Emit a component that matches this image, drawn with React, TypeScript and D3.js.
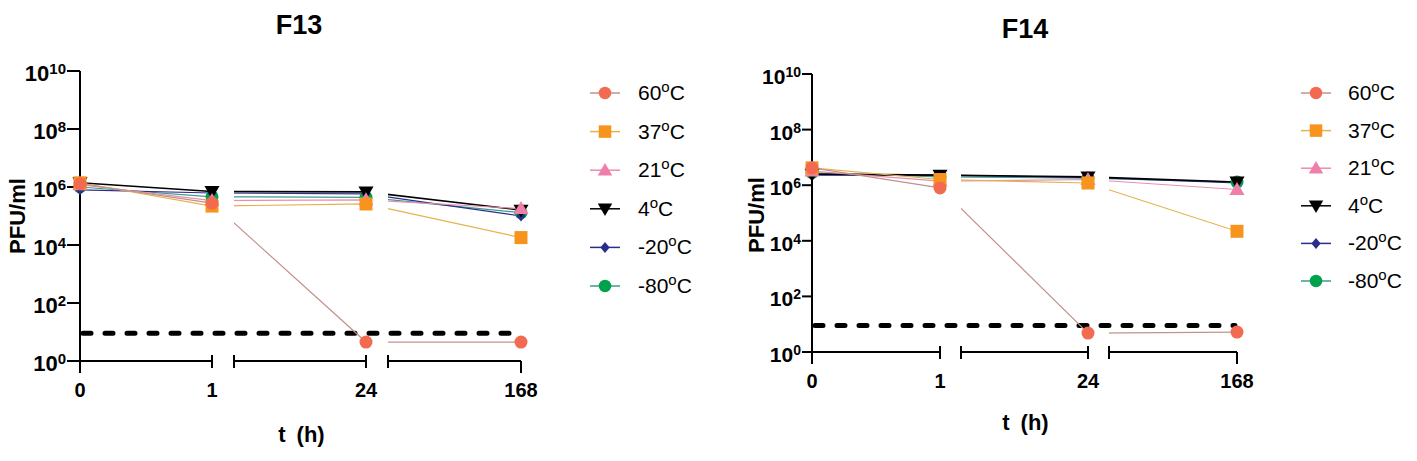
import React from "react";
import * as d3 from "d3";

// ---------- data ----------
const timeLabels = ["0", "1", "24", "168"];
const seriesNames = ["60", "37", "21", "4", "-20", "-80"];
const shapes = ["circle", "square", "triangle", "triangleDown", "diamond", "circle"];
const markerColors = ["#F26B50", "#F7941D", "#F07EAA", "#000000", "#2B2F8C", "#00A14B"];
const lineColors = ["#C4928A", "#E5B24E", "#EA8DB2", "#000000", "#2B2F8C", "#3C9C8E"];

const f13_60 = [1.3e6, 2.8e5, 4.5, 4.5];
const f13_37 = [1.4e6, 2.2e5, 2.6e5, 1.8e4];
const f13_21 = [1.2e6, 3.4e5, 3.6e5, 1.8e5];
const f13_4 = [1.4e6, 7.0e5, 6.8e5, 1.6e5];
const f13_m20 = [8.0e5, 6.2e5, 5.8e5, 1.0e5];
const f13_m80 = [1.0e6, 4.6e5, 4.4e5, 1.3e5];

const f14_60 = [4.2e6, 8.0e5, 4.8, 5.2];
const f14_37 = [4.2e6, 1.6e6, 1.2e6, 2.2e4];
const f14_21 = [3.2e6, 1.4e6, 1.6e6, 7.0e5];
const f14_4 = [2.5e6, 2.3e6, 2.0e6, 1.3e6];
const f14_m20 = [2.3e6, 2.3e6, 1.9e6, 1.2e6];
const f14_m80 = [2.8e6, 2.0e6, 1.8e6, 1.3e6];

const detectionLimit = 9;
const yTickExps = [0, 2, 4, 6, 8, 10];

const f13Series = [f13_60, f13_37, f13_21, f13_4, f13_m20, f13_m80];
const f14Series = [f14_60, f14_37, f14_21, f14_4, f14_m20, f14_m80];

const FONT = "'Liberation Sans', Arial, Helvetica, sans-serif";

function markerPath(shape: string, s: number): string {
  const h = s / 2;
  switch (shape) {
    case "square":
      return `M${-h},${-h}H${h}V${h}H${-h}Z`;
    case "triangle": {
      const t = s * 0.58;
      return `M0,${-t}L${t},${t * 0.72}L${-t},${t * 0.72}Z`;
    }
    case "triangleDown": {
      const t = s * 0.58;
      return `M0,${t}L${t},${-t * 0.72}L${-t},${-t * 0.72}Z`;
    }
    case "diamond": {
      const t = s * 0.5;
      return `M0,${-t}L${t * 0.85},0L0,${t}L${-t * 0.85},0Z`;
    }
    default: {
      const r = h;
      return `M${r},0A${r},${r} 0 1,1 ${-r},0A${r},${r} 0 1,1 ${r},0Z`;
    }
  }
}

type PanelProps = {
  id: string;
  title: string;
  titleX: number;
  titleY: number;
  data: number[][];
  xs: number[];
  segs: [number, number][];
  yTop: number;
  yBottom: number;
  labelSize: number;
  supSize: number;
  tickLen: number;
  xLabelY: number;
  xTitleY: number;
  yTitleX: number;
  yTitleY: number;
  legendLineX: [number, number];
  legendTextX: number;
  legendY0: number;
  legendDy: number;
};

function Panel(p: PanelProps) {
  const x = d3.scaleLinear().domain([0, 1, 2, 3]).range(p.xs);
  const y = d3.scaleLog().domain([1, 1e10]).range([p.yBottom, p.yTop]);
  const axisX = p.xs[0];
  const axisY = p.yBottom;
  const line = d3
    .line<number>()
    .x((_, i) => x(i))
    .y((d) => y(d));
  const order = [5, 4, 3, 2, 1, 0];
  return (
    <g>
      <defs>
        <clipPath id={`clip-${p.id}`}>
          {p.segs.map((s, i) => (
            <rect key={i} x={s[0]} y={0} width={s[1] - s[0]} height={461} />
          ))}
        </clipPath>
      </defs>
      <text x={p.titleX} y={p.titleY} textAnchor="middle" fontFamily={FONT} fontWeight="bold" fontSize={27}>
        {p.title}
      </text>

      <line
        x1={axisX + 3}
        x2={p.xs[3] - 2}
        y1={y(detectionLimit)}
        y2={y(detectionLimit)}
        stroke="#000"
        strokeWidth={5}
        strokeDasharray="8 14"
        strokeLinecap="round"
      />

      <g clipPath={`url(#clip-${p.id})`}>
        {order.map((k) => (
          <path
            key={k}
            d={line(p.data[k]) || ""}
            fill="none"
            stroke={lineColors[k]}
            strokeWidth={k === 3 ? 1.6 : 1.2}
          />
        ))}
      </g>

      <g stroke="#000" strokeWidth={2} fill="none">
        <line x1={axisX} x2={axisX} y1={p.yTop} y2={axisY + 12} />
        {yTickExps.map((e) => (
          <line key={e} x1={axisX - p.tickLen} x2={axisX} y1={y(Math.pow(10, e))} y2={y(Math.pow(10, e))} />
        ))}
        {p.segs.map((s, i) => (
          <line key={i} x1={s[0]} x2={s[1]} y1={axisY} y2={axisY} />
        ))}
        {p.segs.map((s, i) => (
          <g key={"c" + i}>
            {i > 0 && <line x1={s[0]} x2={s[0]} y1={axisY - 6} y2={axisY + 7} />}
            {i < p.segs.length - 1 ? (
              <line x1={s[1]} x2={s[1]} y1={axisY - 6} y2={axisY + 7} />
            ) : (
              <line x1={s[1]} x2={s[1]} y1={axisY} y2={axisY + 12} />
            )}
          </g>
        ))}
      </g>

      {yTickExps.map((e) => (
        <text
          key={e}
          x={axisX - p.tickLen - 1}
          y={y(Math.pow(10, e)) + 10}
          textAnchor="end"
          fontFamily={FONT}
          fontWeight="bold"
          fontSize={p.labelSize}
        >
          <tspan>10</tspan>
          <tspan dy={-7} fontSize={p.supSize}>
            {e}
          </tspan>
        </text>
      ))}

      {timeLabels.map((t, i) => (
        <text key={t} x={x(i)} y={p.xLabelY} textAnchor="middle" fontFamily={FONT} fontWeight="bold" fontSize={20}>
          {t}
        </text>
      ))}
      <text
        x={(p.xs[0] + p.xs[3]) / 2 + 1}
        y={p.xTitleY}
        textAnchor="middle"
        fontFamily={FONT}
        fontWeight="bold"
        fontSize={22}
      >
        {"t\u2002(h)"}
      </text>
      <text
        transform={`translate(${p.yTitleX},${p.yTitleY}) rotate(-90)`}
        textAnchor="middle"
        fontFamily={FONT}
        fontWeight="bold"
        fontSize={22}
      >
        PFU/ml
      </text>

      {order.map((k) =>
        p.data[k].map((v, i) => (
          <path
            key={k + "-" + i}
            transform={`translate(${x(i)},${y(v)})`}
            d={markerPath(shapes[k], shapes[k] === "diamond" ? 11 : 13)}
            fill={markerColors[k]}
          />
        ))
      )}

      {seriesNames.map((n, k) => {
        const ly = p.legendY0 + k * p.legendDy;
        const mx = (p.legendLineX[0] + p.legendLineX[1]) / 2;
        return (
          <g key={n}>
            <line x1={p.legendLineX[0]} x2={p.legendLineX[1]} y1={ly} y2={ly} stroke={lineColors[k]} strokeWidth={1.5} />
            <path
              transform={`translate(${mx},${ly})`}
              d={markerPath(shapes[k], shapes[k] === "diamond" ? 11 : 12.5)}
              fill={markerColors[k]}
            />
            <text x={p.legendTextX} y={ly + 7} fontFamily={FONT} fontSize={21}>
              <tspan>{n}</tspan>
              <tspan dy={-8} fontSize={15}>
                o
              </tspan>
              <tspan dy={8}>C</tspan>
            </text>
          </g>
        );
      })}
    </g>
  );
}

export default function App() {
  return (
    <svg
      width={1417}
      height={461}
      viewBox="0 0 1417 461"
      style={{ position: "absolute", left: 0, top: 0, background: "#fff" }}
    >
      <rect width={1417} height={461} fill="#fff" />
      <Panel
        id="f13"
        title="F13"
        titleX={299}
        titleY={34}
        data={f13Series}
        xs={[80, 212, 366, 521]}
        segs={[
          [80, 212],
          [234, 366],
          [388, 521],
        ]}
        yTop={71}
        yBottom={361}
        labelSize={22}
        supSize={15}
        tickLen={13}
        xLabelY={397}
        xTitleY={442}
        yTitleX={25}
        yTitleY={216}
        legendLineX={[590, 620]}
        legendTextX={638}
        legendY0={93}
        legendDy={38.6}
      />
      <Panel
        id="f14"
        title="F14"
        titleX={1025}
        titleY={38}
        data={f14Series}
        xs={[812, 940, 1088, 1237]}
        segs={[
          [812, 940],
          [961, 1088],
          [1109, 1237],
        ]}
        yTop={74}
        yBottom={352}
        labelSize={21}
        supSize={14}
        tickLen={10}
        xLabelY={388}
        xTitleY={430}
        yTitleX={764}
        yTitleY={215}
        legendLineX={[1301, 1331]}
        legendTextX={1348}
        legendY0={93}
        legendDy={37.6}
      />
    </svg>
  );
}
